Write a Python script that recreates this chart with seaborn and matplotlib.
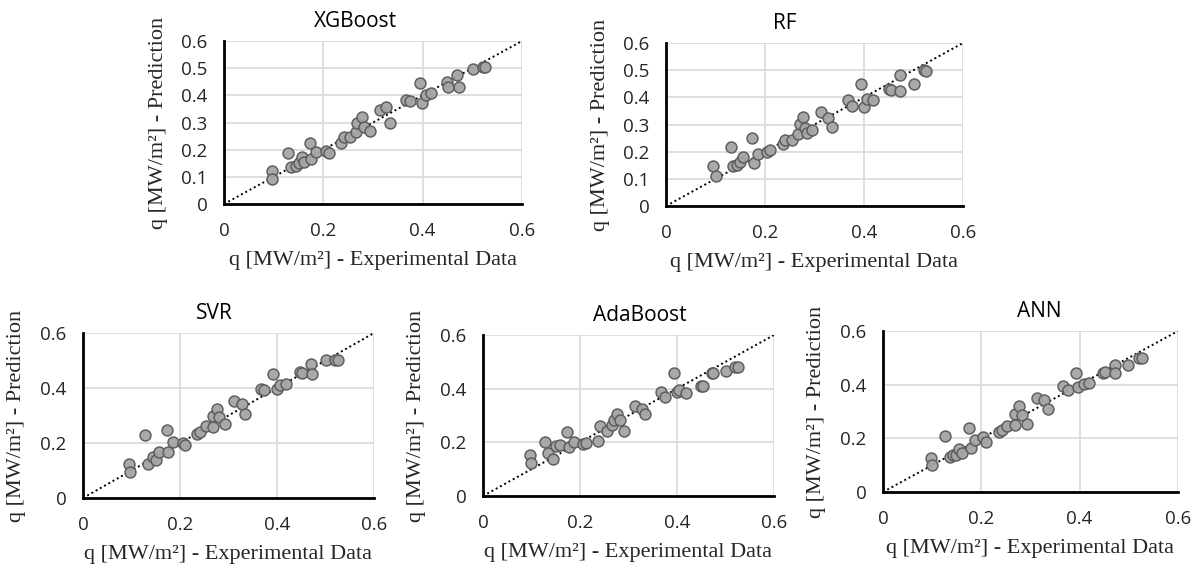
import numpy as np
import pandas as pd
import matplotlib
matplotlib.use("Agg")
import matplotlib.pyplot as plt
import seaborn as sns

sns.set_style("white")
plt.rcParams['font.family'] = ['Open Sans', 'DejaVu Sans']

# ---------------- data ----------------
xgb_x = [0.096, 0.097, 0.128, 0.134, 0.145, 0.152, 0.157, 0.161, 0.173, 0.175, 0.185, 0.206, 0.211,
         0.236, 0.241, 0.254, 0.266, 0.267, 0.277, 0.282, 0.293, 0.315, 0.326, 0.335, 0.366, 0.375,
         0.394, 0.399, 0.406, 0.417, 0.448, 0.452, 0.470, 0.473, 0.501, 0.521, 0.526]
xgb_y = [0.121, 0.093, 0.188, 0.137, 0.140, 0.152, 0.174, 0.156, 0.226, 0.167, 0.193, 0.196, 0.187,
         0.226, 0.245, 0.248, 0.266, 0.297, 0.319, 0.285, 0.270, 0.346, 0.358, 0.297, 0.383, 0.379,
         0.447, 0.371, 0.401, 0.407, 0.448, 0.432, 0.475, 0.432, 0.497, 0.503, 0.503]

rf_x = [0.095, 0.102, 0.131, 0.135, 0.143, 0.150, 0.156, 0.174, 0.177, 0.185, 0.205, 0.211, 0.236,
        0.241, 0.254, 0.266, 0.270, 0.277, 0.280, 0.284, 0.294, 0.314, 0.327, 0.335, 0.367, 0.376,
        0.393, 0.399, 0.406, 0.418, 0.450, 0.455, 0.472, 0.473, 0.502, 0.521, 0.526]
rf_y = [0.146, 0.109, 0.217, 0.146, 0.150, 0.162, 0.180, 0.252, 0.158, 0.190, 0.199, 0.205, 0.229,
        0.244, 0.242, 0.266, 0.301, 0.327, 0.288, 0.270, 0.281, 0.346, 0.325, 0.291, 0.389, 0.367,
        0.448, 0.364, 0.395, 0.389, 0.432, 0.426, 0.481, 0.423, 0.450, 0.502, 0.496]

svr_x = [0.095, 0.097, 0.127, 0.135, 0.144, 0.151, 0.156, 0.173, 0.176, 0.185, 0.207, 0.211, 0.236,
         0.242, 0.254, 0.268, 0.269, 0.276, 0.281, 0.292, 0.312, 0.327, 0.334, 0.367, 0.373, 0.392,
         0.399, 0.406, 0.418, 0.447, 0.451, 0.471, 0.473, 0.500, 0.520, 0.526]
svr_y = [0.122, 0.095, 0.230, 0.122, 0.149, 0.139, 0.167, 0.248, 0.167, 0.204, 0.200, 0.192, 0.234,
         0.240, 0.261, 0.258, 0.298, 0.325, 0.295, 0.270, 0.353, 0.343, 0.307, 0.395, 0.392, 0.450,
         0.398, 0.410, 0.416, 0.458, 0.455, 0.488, 0.450, 0.501, 0.503, 0.503]

ada_x = [0.096, 0.098, 0.127, 0.135, 0.145, 0.151, 0.158, 0.174, 0.178, 0.187, 0.206, 0.212, 0.237,
         0.241, 0.255, 0.267, 0.270, 0.277, 0.283, 0.291, 0.314, 0.327, 0.334, 0.366, 0.375, 0.394,
         0.399, 0.405, 0.418, 0.449, 0.453, 0.473, 0.475, 0.501, 0.520, 0.526]
ada_y = [0.152, 0.123, 0.202, 0.161, 0.139, 0.186, 0.189, 0.239, 0.183, 0.202, 0.193, 0.198, 0.205,
         0.260, 0.242, 0.264, 0.283, 0.305, 0.283, 0.243, 0.335, 0.326, 0.304, 0.389, 0.370, 0.460,
         0.389, 0.395, 0.385, 0.410, 0.410, 0.460, 0.457, 0.467, 0.479, 0.479]

ann_x = [0.097, 0.099, 0.127, 0.136, 0.143, 0.148, 0.155, 0.160, 0.175, 0.178, 0.187, 0.204, 0.209,
         0.236, 0.243, 0.253, 0.268, 0.268, 0.276, 0.282, 0.292, 0.314, 0.328, 0.335, 0.367, 0.376,
         0.393, 0.397, 0.408, 0.418, 0.448, 0.452, 0.471, 0.471, 0.499, 0.520, 0.527]
ann_y = [0.126, 0.101, 0.210, 0.130, 0.139, 0.139, 0.160, 0.147, 0.238, 0.163, 0.194, 0.204, 0.188,
         0.223, 0.231, 0.246, 0.250, 0.291, 0.321, 0.287, 0.252, 0.349, 0.343, 0.308, 0.395, 0.380,
         0.444, 0.392, 0.401, 0.405, 0.444, 0.448, 0.475, 0.442, 0.473, 0.498, 0.498]

models = ['XGBoost', 'RF', 'SVR', 'AdaBoost', 'ANN']
series = {
    'XGBoost': (xgb_x, xgb_y),
    'RF': (rf_x, rf_y),
    'SVR': (svr_x, svr_y),
    'AdaBoost': (ada_x, ada_y),
    'ANN': (ann_x, ann_y),
}
top_yticks = [0, 0.1, 0.2, 0.3, 0.4, 0.5, 0.6]
bottom_yticks = [0, 0.2, 0.4, 0.6]
xticks = [0, 0.2, 0.4, 0.6]

# ---------------- layout (pixel boxes of the panels) ----------------
W, H = 1199, 565
boxes = {  # left, top, right, bottom in px
    'XGBoost': (224, 41, 522, 204),
    'RF': (666, 43, 963, 206),
    'SVR': (83, 333, 374, 498),
    'AdaBoost': (483, 335, 774, 496),
    'ANN': (883, 331, 1178, 492),
}
title_x = {'XGBoost': 0.44, 'RF': 0.40, 'SVR': 0.45, 'AdaBoost': 0.54, 'ANN': 0.53}

fig = plt.figure(figsize=(W / 100, H / 100), dpi=100)
serif = ['Liberation Serif', 'DejaVu Serif']

for name in models:
    l, t, r, b = boxes[name]
    w_px, h_px = r - l, b - t
    ax = fig.add_axes([l / W, (H - b) / H, w_px / W, h_px / H])
    xs, ys = series[name]
    df = pd.DataFrame({'exp': xs, 'pred': ys})

    # 1:1 reference line
    sns.lineplot(x=[0, 0.6], y=[0, 0.6], ax=ax, color='black', linestyle=(0, (1, 1.5)),
                 linewidth=1.4, zorder=2)
    sns.scatterplot(data=df, x='exp', y='pred', ax=ax, s=62, color='#a5a5a5',
                    edgecolor='#5a5a5a', linewidth=1.1, alpha=0.95, zorder=3)

    top = name in ('XGBoost', 'RF')
    ax.set_xlim(0, 0.6)
    ax.set_ylim(0, 0.6)
    ax.set_xticks(xticks)
    ax.set_xticklabels(['0', '0.2', '0.4', '0.6'])
    yt = top_yticks if top else bottom_yticks
    ax.set_yticks(yt)
    ax.set_yticklabels(['0' if v == 0 else f'{v:g}' for v in yt])
    ax.grid(True, color='#d9d9d9', linewidth=1.2)
    ax.set_axisbelow(True)
    for s in ('top', 'right'):
        ax.spines[s].set_visible(False)
    for s in ('left', 'bottom'):
        ax.spines[s].set_color('black')
        ax.spines[s].set_linewidth(2)
    ax.tick_params(axis='both', length=0, labelsize=13.5, colors='#262626')
    ax.tick_params(axis='x', pad=13)
    ax.tick_params(axis='y', pad=12)

    ax.set_xlabel('q [MW/m²] - Experimental Data', family=serif, fontsize=16,
                  color='#262626', va='center')
    ax.set_ylabel('q [MW/m²] - Prediction', family=serif, fontsize=16,
                  color='#262626', va='center')
    ax.xaxis.set_label_coords(0.5, -56 / h_px)
    ax.yaxis.set_label_coords(-66 / w_px, 0.5)
    ax.set_title(name, fontsize=15, x=title_x[name], pad=10, color='black')

fig.savefig('out.png', dpi=100)
